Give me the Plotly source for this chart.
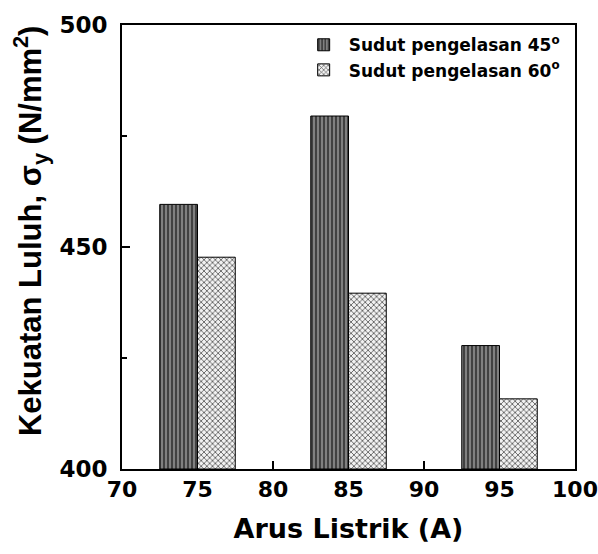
import plotly.graph_objects as go

currents = [75, 85, 95]
sudut45 = [459.6, 479.5, 427.8]
sudut60 = [447.7, 439.6, 415.8]
series_names = ["Sudut pengelasan 45<sup>o</sup>", "Sudut pengelasan 60<sup>o</sup>"]
x_ticks = [70, 75, 80, 85, 90, 95, 100]
y_ticks = [400, 450, 500]

FONT = "DejaVu Sans"
YFONT = "Liberation Sans"

fig = go.Figure()
fig.add_trace(go.Bar(
    x=currents, y=[v - 400 for v in sudut45], base=400,
    offset=-2.5, width=2.5, name=series_names[0],
    marker=dict(color="#808080", line=dict(color="black", width=1),
                pattern=dict(shape="|", size=4, solidity=0.35,
                             fgcolor="#262626", bgcolor="#808080", fillmode="replace")),
))
fig.add_trace(go.Bar(
    x=currents, y=[v - 400 for v in sudut60], base=400,
    offset=0, width=2.5, name=series_names[1],
    marker=dict(color="white", line=dict(color="black", width=1),
                pattern=dict(shape="x", size=4, solidity=0.35,
                             fgcolor="#4a4a4a", bgcolor="#f2f2f2", fillmode="replace")),
))

fig.update_layout(
    width=598, height=554,
    margin=dict(l=122, r=23, t=25, b=85),
    paper_bgcolor="white", plot_bgcolor="white",
    barmode="overlay",
    showlegend=True,
    legend=dict(x=0.39, y=0.995, xanchor="left", yanchor="top",
                bgcolor="rgba(0,0,0,0)", borderwidth=0,
                font=dict(family=FONT, size=17, color="black", weight="bold"),
                tracegroupgap=0, itemwidth=40),
    font=dict(family=FONT, color="black", weight="bold"),
)

fig.update_xaxes(
    range=[70, 100], tickvals=x_ticks, ticktext=["<b>%d</b>" % v for v in x_ticks],
    ticks="inside", ticklen=8, tickwidth=2, tickcolor="black",
    showline=True, linewidth=2, linecolor="black", mirror=True,
    showgrid=False, zeroline=False, layer="below traces",
    ticklabeloverflow="allow", automargin=False,
    tickfont=dict(family=FONT, size=22, color="black", weight="bold"),
    title=dict(text="Arus Listrik (A)", standoff=18,
               font=dict(family=FONT, size=27, color="black", weight="bold")),
)
fig.update_yaxes(
    range=[400, 500], tickvals=y_ticks, ticktext=["<b>%d</b>" % v for v in y_ticks],
    ticks="inside", ticklen=8, tickwidth=2, tickcolor="black",
    minor=dict(dtick=25, tick0=400, ticks="inside", ticklen=5, tickwidth=2, tickcolor="black"),
    showline=True, linewidth=2, linecolor="black", mirror=True,
    showgrid=False, zeroline=False, layer="below traces",
    automargin=False,
    tickfont=dict(family=FONT, size=23, color="black", weight="bold"),
    ticklabelstandoff=8,
)

fig.add_annotation(
    text="Kekuatan Luluh, σ<sub>y</sub> (N/mm<sup>2</sup>)",
    xref="paper", yref="paper", x=-0.203, y=0.536,
    xanchor="center", yanchor="middle", textangle=-90, showarrow=False,
    font=dict(family=YFONT, size=31, color="black", weight="bold"),
)

fig.write_html("out.html")
